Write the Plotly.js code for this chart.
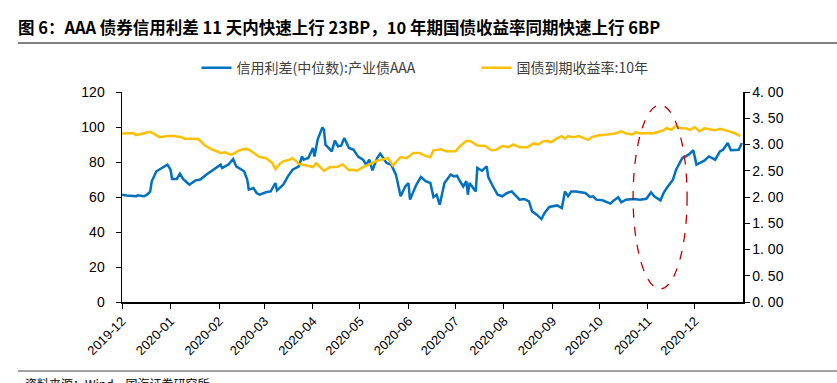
<!DOCTYPE html>
<html>
<head>
<meta charset="utf-8">
<script src="https://cdn.plot.ly/plotly-3.0.1.min.js"></script>
<style>html,body{margin:0;padding:0;background:#fff;}#chart{width:837px;height:383px;}</style>
</head>
<body>
<div id="chart"></div>
<script>
const titleText = "图 6：AAA 债券信用利差 11 天内快速上行 23BP，10 年期国债收益率同期快速上行 6BP";
const sourceText = "资料来源：Wind，国海证券研究所";
const spreadName = "信用利差(中位数):产业债AAA";
const yieldName = "国债到期收益率:10年";

const spreadDates = [
'2019-12-01','2019-12-04','2019-12-10','2019-12-11','2019-12-15','2019-12-17','2019-12-19','2019-12-20','2019-12-23','2019-12-27','2019-12-30',
'2020-01-01','2020-01-02','2020-01-05','2020-01-07','2020-01-09','2020-01-13','2020-01-17','2020-01-20','2020-01-24',
'2020-02-02','2020-02-03','2020-02-07','2020-02-10','2020-02-12','2020-02-17','2020-02-19','2020-02-20','2020-02-23','2020-02-25','2020-02-27',
'2020-03-02','2020-03-05','2020-03-08','2020-03-09','2020-03-13','2020-03-16','2020-03-19','2020-03-23','2020-03-25','2020-03-26','2020-03-29',
'2020-04-01','2020-04-02','2020-04-04','2020-04-07','2020-04-08','2020-04-09','2020-04-13','2020-04-15','2020-04-17','2020-04-19','2020-04-21','2020-04-24','2020-04-27','2020-04-29','2020-04-30',
'2020-05-03','2020-05-05','2020-05-07','2020-05-09','2020-05-12','2020-05-14','2020-05-18','2020-05-21','2020-05-24','2020-05-27','2020-05-30',
'2020-06-01','2020-06-02','2020-06-04','2020-06-06','2020-06-09','2020-06-12','2020-06-15','2020-06-17','2020-06-19','2020-06-21','2020-06-24','2020-06-28','2020-06-30',
'2020-07-02','2020-07-04','2020-07-06','2020-07-08','2020-07-09','2020-07-10','2020-07-14','2020-07-15','2020-07-18','2020-07-21','2020-07-22','2020-07-25','2020-07-28','2020-07-31',
'2020-08-03','2020-08-06','2020-08-09','2020-08-11','2020-08-14','2020-08-17','2020-08-19','2020-08-22','2020-08-25','2020-08-27','2020-08-30',
'2020-09-04','2020-09-07','2020-09-09','2020-09-11','2020-09-13','2020-09-16','2020-09-19','2020-09-22','2020-09-25','2020-09-27','2020-09-29',
'2020-10-03','2020-10-08','2020-10-10','2020-10-13','2020-10-15','2020-10-18','2020-10-23','2020-10-27','2020-10-31',
'2020-11-03','2020-11-05','2020-11-09','2020-11-11','2020-11-13','2020-11-17','2020-11-19','2020-11-23','2020-11-25','2020-11-27','2020-11-30',
'2020-12-02','2020-12-04','2020-12-07','2020-12-10','2020-12-14','2020-12-17','2020-12-19','2020-12-22','2020-12-24','2020-12-29','2020-12-31'
];
const spreadValues = [
61.3,60.8,60.4,61.0,60.4,61.3,63,69,74.7,77,78.5,
75.6,70.3,70.3,73.3,70.3,67,69.5,70,72.8,
78.5,76.6,78.5,81.7,77.5,74.7,69.9,64.2,65.1,62.3,61.3,
62.7,63.2,68,63.8,67,71.8,75.6,77.5,83.2,81.3,82.3,
88,83.2,92.8,99.8,98.5,89.9,86.1,92.2,89,89.3,93.7,88,87,84.2,82.9,
81.3,78.5,81.3,75.2,82.3,84.8,79.4,78.5,72.8,60.4,66,
68,58.5,62.3,67,71.4,69,68,60,61.3,55.6,68,72.8,71.8,
72.2,69,66,69,61.3,68,63.2,76.6,75,77.5,71.4,66,61.3,60.4,
62.3,63.2,60.4,58.5,58.9,57.5,51.8,49.9,47.4,50.9,54.3,
55.2,53.7,63.2,60.4,63.2,63.2,62.7,62.3,60,60.4,58.5,
58.1,56.2,57.9,59.8,57,58.5,58.9,58.5,59,
62.7,60.4,58.1,62.3,65.1,69.9,75.6,82.3,83.2,84.2,86.7,
78.5,79.4,80.8,83.2,81.3,86.1,87,90.9,86.7,87,90.9
];

const yieldDates = [
'2019-12-01','2019-12-05','2019-12-08','2019-12-10','2019-12-14','2019-12-17','2019-12-19','2019-12-21','2019-12-25','2019-12-30',
'2020-01-03','2020-01-08','2020-01-10','2020-01-16','2020-01-19','2020-01-23','2020-01-28',
'2020-02-02','2020-02-05','2020-02-08','2020-02-10','2020-02-14','2020-02-18','2020-02-20','2020-02-23','2020-02-27',
'2020-03-02','2020-03-06','2020-03-08','2020-03-11','2020-03-13','2020-03-17','2020-03-19','2020-03-23','2020-03-28',
'2020-04-01','2020-04-03','2020-04-08','2020-04-12','2020-04-16','2020-04-20','2020-04-24','2020-04-27','2020-04-29',
'2020-05-03','2020-05-07','2020-05-12','2020-05-16','2020-05-19','2020-05-22','2020-05-27','2020-05-31',
'2020-06-04','2020-06-08','2020-06-12','2020-06-15','2020-06-17','2020-06-22','2020-06-25',
'2020-07-01','2020-07-04','2020-07-08','2020-07-11','2020-07-15','2020-07-20','2020-07-24','2020-07-27','2020-07-31',
'2020-08-04','2020-08-07','2020-08-11','2020-08-16','2020-08-20','2020-08-23','2020-08-26','2020-08-29','2020-08-31',
'2020-09-04','2020-09-07','2020-09-09','2020-09-11','2020-09-14','2020-09-18','2020-09-21','2020-09-24','2020-09-26','2020-09-30',
'2020-10-06','2020-10-11','2020-10-15','2020-10-18','2020-10-22','2020-10-24','2020-10-28',
'2020-11-01','2020-11-04','2020-11-08','2020-11-11','2020-11-13','2020-11-16','2020-11-19','2020-11-21','2020-11-25','2020-11-28',
'2020-12-01','2020-12-04','2020-12-07','2020-12-11','2020-12-14','2020-12-17','2020-12-20','2020-12-23','2020-12-27','2020-12-30'
];
const yieldValues = [
3.21,3.21,3.22,3.18,3.21,3.22,3.24,3.21,3.14,3.16,
3.16,3.14,3.11,3.11,3.10,2.98,2.90,
2.84,2.85,2.81,2.82,2.89,2.92,2.90,2.84,2.76,
2.74,2.65,2.53,2.64,2.68,2.71,2.74,2.63,2.60,
2.57,2.64,2.50,2.57,2.57,2.62,2.51,2.52,2.50,
2.57,2.63,2.69,2.72,2.74,2.60,2.76,2.74,
2.84,2.84,2.78,2.76,2.89,2.91,2.87,
2.87,2.97,3.07,3.06,2.98,2.97,2.89,2.90,2.97,
2.95,3.00,2.95,2.95,3.02,3.00,3.06,3.07,3.04,
3.12,3.16,3.11,3.16,3.14,3.16,3.12,3.09,3.14,3.17,
3.19,3.21,3.25,3.21,3.19,3.23,3.21,
3.22,3.21,3.25,3.27,3.31,3.28,3.36,3.31,3.31,3.28,
3.33,3.25,3.31,3.28,3.27,3.30,3.28,3.25,3.21,3.16
];

const leftTickVals = [0,20,40,60,80,100,120];
const rightTickVals = [0,0.5,1,1.5,2,2.5,3,3.5,4];
const rightTickText = ['0. 00','0. 50','1. 00','1. 50','2. 00','2. 50','3. 00','3. 50','4. 00'];

const tickFont = {family: 'Liberation Sans, Arial, sans-serif', size: 14, color: '#000'};

const traces = [
  {x: spreadDates, y: spreadValues, name: spreadName, type: 'scatter', mode: 'lines',
   line: {color: '#0070C0', width: 2.5}, yaxis: 'y'},
  {x: yieldDates, y: yieldValues, name: yieldName, type: 'scatter', mode: 'lines',
   line: {color: '#FFC000', width: 2.5}, yaxis: 'y2'}
];

const layout = {
  width: 837, height: 383,
  margin: {l: 122, r: 94, t: 92, b: 81},
  paper_bgcolor: '#fff', plot_bgcolor: '#fff',
  showlegend: true,
  title: {
    text: '<b>' + titleText + '</b>',
    x: 18/837, xref: 'container', xanchor: 'left',
    y: 1 - 28/383, yref: 'container', yanchor: 'middle',
    font: {family: 'Noto Sans CJK SC, sans-serif', size: 16.5, color: '#000'}
  },
  legend: {
    orientation: 'h', x: 0.12, xanchor: 'left', y: 1.114, yanchor: 'middle',
    font: {family: 'Noto Sans CJK SC, sans-serif', size: 14, color: '#404040'},
    itemwidth: 30, entrywidth: 235, bgcolor: 'rgba(0,0,0,0)'
  },
  xaxis: {
    type: 'date', range: ['2019-12-01', '2020-12-31 18:00'],
    tick0: '2019-12-01', dtick: 'M1', tickformat: '%Y-%m', tickangle: -45,
    ticks: 'outside', ticklen: 5, tickwidth: 1, tickcolor: '#000',
    showline: true, linecolor: '#000', linewidth: 1.5, showgrid: false, zeroline: false,
    tickfont: {family: 'Liberation Sans, Arial, sans-serif', size: 13, color: '#000'}
  },
  yaxis: {
    range: [0, 120], tickvals: leftTickVals,
    ticks: 'outside', ticklen: 5, tickwidth: 1, tickcolor: '#000',
    showline: true, linecolor: '#000', linewidth: 1.5, showgrid: false, zeroline: false,
    tickfont: tickFont, ticklabelstandoff: 8
  },
  yaxis2: {
    overlaying: 'y', side: 'right', range: [0, 4],
    tickvals: rightTickVals, ticktext: rightTickText,
    ticks: 'outside', ticklen: 5, tickwidth: 1, tickcolor: '#000',
    showline: true, linecolor: '#000', linewidth: 1.5, showgrid: false, zeroline: false,
    tickfont: tickFont
  },
  shapes: [
    {type: 'line', xref: 'paper', yref: 'paper', x0: -0.1675, x1: 1.16, y0: 1.233, y1: 1.233,
     line: {color: '#808080', width: 2}},
    {type: 'line', xref: 'paper', yref: 'paper', x0: -0.1675, x1: 1.16, y0: -0.329, y1: -0.329,
     line: {color: '#808080', width: 1.5}},
    {type: 'circle', xref: 'paper', yref: 'paper', x0: 0.823, x1: 0.910, y0: 0.062, y1: 0.938,
     line: {color: '#C00000', width: 1.3, dash: 'dash'}}
  ],
  annotations: [
    {text: sourceText, xref: 'paper', yref: 'paper', x: -0.16, xanchor: 'left',
     y: -0.337, yanchor: 'top', showarrow: false,
     font: {family: 'Noto Sans CJK SC, sans-serif', size: 12, color: '#000'}}
  ]
};

Plotly.newPlot('chart', traces, layout, {displayModeBar: false, staticPlot: true});
</script>
</body>
</html>
